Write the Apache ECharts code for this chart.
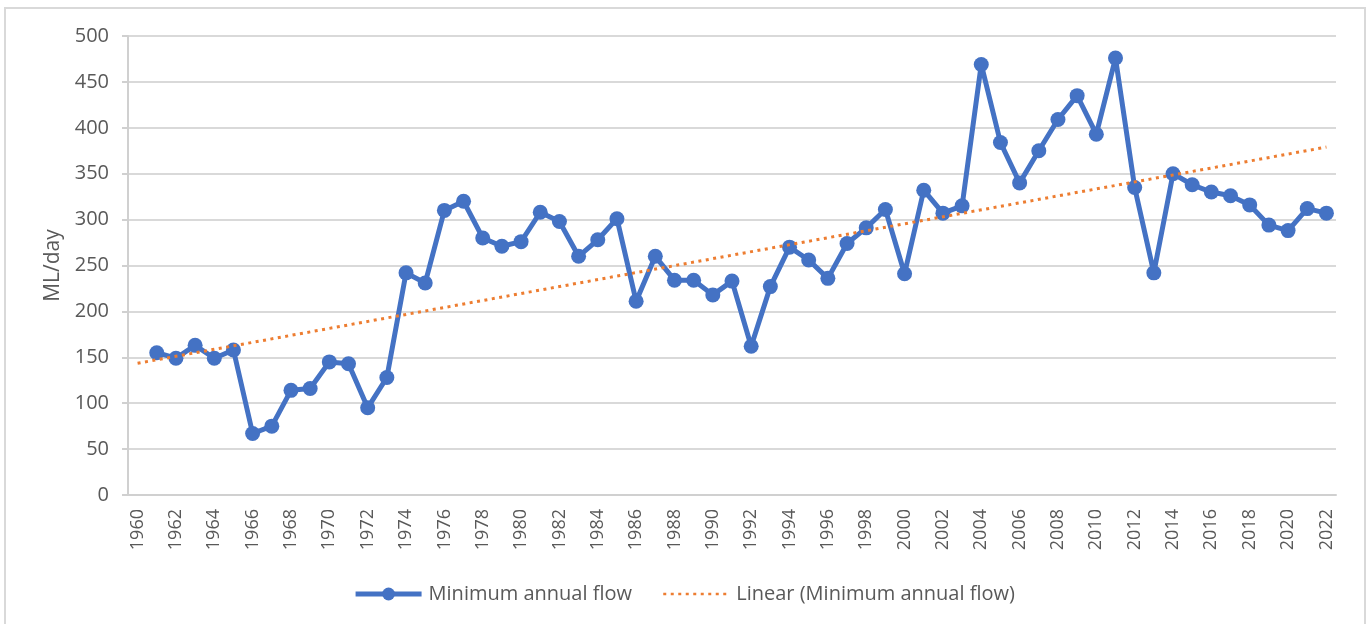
<!DOCTYPE html>
<html>
<head>
<meta charset="utf-8">
<script src="https://cdn.jsdelivr.net/npm/echarts@6/dist/echarts.min.js"></script>
<style>
  html, body { margin: 0; padding: 0; background: #fff; }
  #graph1 { width: 1368px; height: 624px; }
</style>
</head>
<body>
<div id="graph1"></div>
<script>
// years on the axis (1960 is an empty slot, data begins 1961)
var years = [];
for (var y = 1960; y <= 2022; y++) {
    years.push(String(y));
}

// minimum annual flow, ML/day, 1961..2022
var minFlow = [
    155, 149, 163, 149, 158, 67, 75, 114, 116, 145,          // 1961-1970
    143, 95, 128, 242, 231, 310, 320, 280, 271, 276,         // 1971-1980
    308, 298, 260, 278, 301, 211, 260, 234, 234, 218,        // 1981-1990
    233, 162, 227, 270, 256, 236, 274, 291, 311, 241,        // 1991-2000
    332, 307, 315, 469, 384, 340, 375, 409, 435, 393,        // 2001-2010
    476, 335, 242, 350, 338, 330, 326, 316, 294, 288,        // 2011-2020
    312, 307                                                 // 2021-2022
];

// linear trend end points as drawn
var trendStart = 143.5;   // at 1960
var trendEnd = 379;       // at 2022

var flowData = [null].concat(minFlow);
var trendData = [[years[0], trendStart], [years[years.length - 1], trendEnd]];

var textColor = '#595959';
var font = 'Open Sans';

var option = {
    animation: false,
    backgroundColor: '#fff',
    graphic: [{
        type: 'rect',
        silent: true,
        z: -1,
        shape: { x: 5, y: 8, width: 1360, height: 640 },
        style: { fill: 'none', stroke: '#d9d9d9', lineWidth: 2 }
    }],
    grid: {
        left: 128,
        right: 32,
        top: 36,
        bottom: 129
    },
    legend: {
        bottom: 15,
        left: 'center',
        itemWidth: 66,
        itemHeight: 16,
        itemGap: 30,
        textStyle: { color: textColor, fontSize: 20, fontFamily: font, padding: [0, 0, 0, 2] },
        data: [
            { name: 'Minimum annual flow', lineStyle: { width: 5 } },
            { name: 'Linear (Minimum annual flow)', itemStyle: { opacity: 0 }, lineStyle: { width: 2.5 } }
        ]
    },
    xAxis: {
        type: 'category',
        data: years,
        boundaryGap: true,
        axisLine: { lineStyle: { color: '#d0d0d0', width: 2 } },
        axisTick: { show: false },
        axisLabel: {
            interval: 1,
            rotate: 90,
            margin: 14,
            color: textColor,
            fontSize: 18,
            fontFamily: font
        }
    },
    yAxis: {
        type: 'value',
        min: 0,
        max: 500,
        interval: 50,
        name: 'ML/day',
        nameLocation: 'middle',
        nameGap: 64,
        nameTextStyle: { color: textColor, fontSize: 21, fontFamily: font },
        axisLine: { show: true, lineStyle: { color: '#d0d0d0', width: 2 } },
        axisTick: { show: true, inside: false, length: 6, lineStyle: { color: '#d0d0d0', width: 2 } },
        axisLabel: { margin: 19, color: textColor, fontSize: 20, fontFamily: font },
        splitLine: { lineStyle: { color: '#d9d9d9', width: 2 } }
    },
    series: [
        {
            name: 'Minimum annual flow',
            type: 'line',
            data: flowData,
            symbol: 'circle',
            symbolSize: 15,
            showSymbol: true,
            showAllSymbol: true,
            itemStyle: { color: '#4472C4' },
            lineStyle: { color: '#4472C4', width: 5 },
            z: 3
        },
        {
            name: 'Linear (Minimum annual flow)',
            type: 'line',
            data: trendData,
            symbol: 'none',
            itemStyle: { color: '#ED7D31' },
            lineStyle: { color: '#ED7D31', width: 3, type: [3, 4.5] },
            z: 4
        }
    ]
};

var myChart = echarts.init(document.getElementById('graph1'));
myChart.setOption(option);
</script>
</body>
</html>
